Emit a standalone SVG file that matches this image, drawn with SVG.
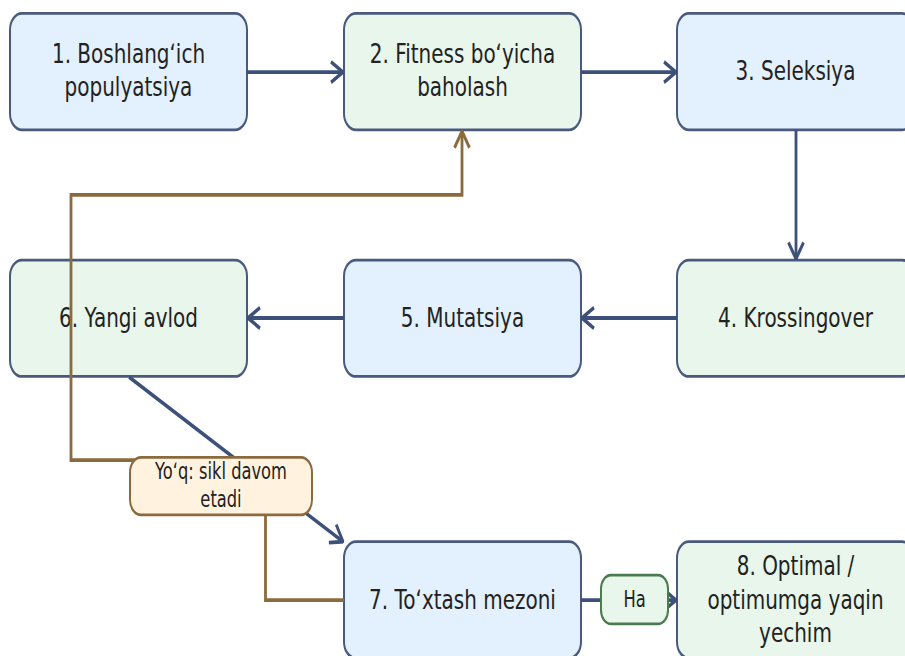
<svg xmlns="http://www.w3.org/2000/svg" width="905" height="656" viewBox="0 0 905 656">
<defs>
<style>
.node rect{stroke:#4a5a7e;stroke-width:2}
.blue rect{fill:#e3f0fd}
.green rect{fill:#e8f6eb}
.t{font-family:"DejaVu Sans","Liberation Sans",sans-serif;font-size:20px;fill:#222;text-anchor:middle}
.lt{font-family:"DejaVu Sans","Liberation Sans",sans-serif;font-size:16.3px;fill:#222;text-anchor:middle}
.c{fill:none;stroke:#3d5079;stroke-width:2.8}
.cb{fill:none;stroke:#8b6a3e;stroke-width:2.8}
</style>
<marker id="ab" markerUnits="userSpaceOnUse" viewBox="0 0 14 18" refX="13" refY="9" markerWidth="14" markerHeight="18" orient="auto">
<path d="M1,1.5 L13,9 L1,16.5" fill="none" stroke="#3d5079" stroke-width="2.8"/>
</marker>
<marker id="abr" markerUnits="userSpaceOnUse" viewBox="0 0 14 18" refX="13" refY="9" markerWidth="14" markerHeight="18" orient="auto">
<path d="M1,1.5 L13,9 L1,16.5" fill="none" stroke="#8b6a3e" stroke-width="2.8"/>
</marker>
</defs>
<rect x="0" y="0" width="905" height="656" fill="#ffffff"/>
<g transform="scale(1,1.37)">
<g id="n1" class="node blue"><rect x="10" y="9.8" width="237" height="85" rx="12"/><text class="t" x="128.5" y="46.2">1. Boshlangʻich</text><text class="t" x="128.5" y="70">populyatsiya</text></g>
<g id="n2" class="node green"><rect x="344" y="9.8" width="237" height="85" rx="12"/><text class="t" x="462.5" y="46.2">2. Fitness boʻyicha</text><text class="t" x="462.5" y="70">baholash</text></g>
<g id="n3" class="node blue"><rect x="677" y="9.8" width="237" height="85" rx="12"/><text class="t" x="795.5" y="58.5">3. Seleksiya</text></g>
<g id="n4" class="node green"><rect x="677" y="189.8" width="237" height="85" rx="12"/><text class="t" x="795.5" y="238.5">4. Krossingover</text></g>
<g id="n5" class="node blue"><rect x="344" y="189.8" width="237" height="85" rx="12"/><text class="t" x="462.5" y="238.5">5. Mutatsiya</text></g>
<g id="n6" class="node green"><rect x="10" y="189.8" width="237" height="85" rx="12"/><text class="t" x="128.5" y="238.5">6. Yangi avlod</text></g>
<g id="n7" class="node blue"><rect x="344" y="395.4" width="237" height="85" rx="12"/><text class="t" x="462.5" y="444.2">7. Toʻxtash mezoni</text></g>
<g id="n8" class="node green"><rect x="677" y="395.4" width="237" height="85" rx="12"/><text class="t" x="795.5" y="420">8. Optimal /</text><text class="t" x="795.5" y="444.2">optimumga yaqin</text><text class="t" x="795.5" y="468.4">yechim</text></g>
<g id="connectors">
<line class="c" x1="247" y1="52.6" x2="343" y2="52.6" marker-end="url(#ab)"/>
<line class="c" x1="581" y1="52.6" x2="676" y2="52.6" marker-end="url(#ab)"/>
<line class="c" x1="796" y1="94.9" x2="796" y2="189" marker-end="url(#ab)"/>
<line class="c" x1="677" y1="232.1" x2="582" y2="232.1" marker-end="url(#ab)"/>
<line class="c" x1="344" y1="232.1" x2="248" y2="232.1" marker-end="url(#ab)"/>
<line class="c" x1="129" y1="275.2" x2="343" y2="395.4" marker-end="url(#ab)"/>
<line class="c" x1="581" y1="438" x2="676" y2="438" marker-end="url(#ab)"/>
<polyline class="cb" points="344,438 265.5,438 265.5,335.8 71,335.8 71,142.3 462,142.3 462,95.8" marker-end="url(#abr)"/>
</g>
<g id="label-yoq"><rect x="130" y="333.8" width="182" height="42" rx="11" fill="#fff3e0" stroke="#8b6a3e" stroke-width="2"/><text class="lt" x="221" y="350">Yoʻq: sikl davom</text><text class="lt" x="221" y="370">etadi</text></g>
<g id="label-ha"><rect x="601" y="419.8" width="67" height="35.6" rx="10" fill="#e8f6eb" stroke="#4a7c4e" stroke-width="2"/><text class="lt" x="634.5" y="443.3">Ha</text></g>
</g>
</svg>
